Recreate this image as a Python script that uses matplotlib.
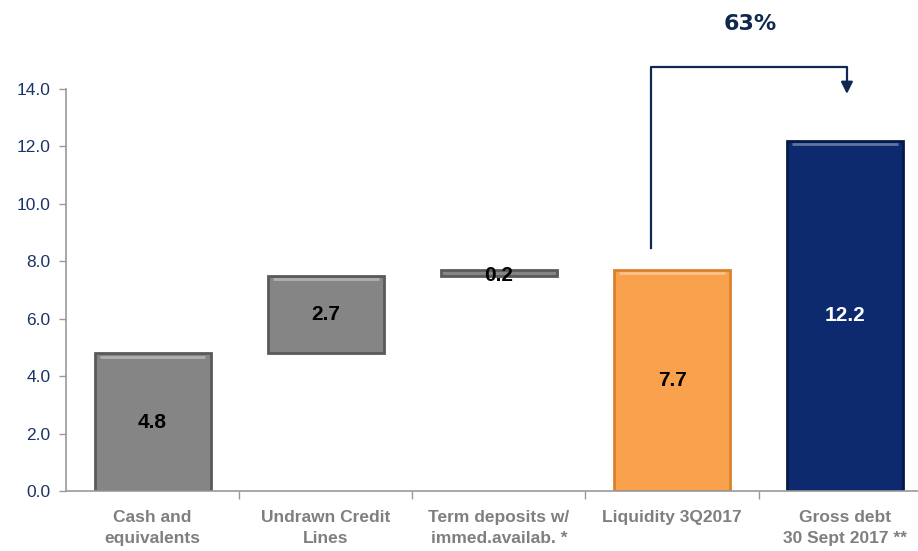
import matplotlib
matplotlib.use("Agg")
import matplotlib.pyplot as plt
import matplotlib.font_manager as fm

categories = ["Cash and\nequivalents", "Undrawn Credit\nLines", "Term deposits w/\nimmed.availab. *",
              "Liquidity 3Q2017", "Gross debt\n30 Sept 2017 **"]
values = [4.8, 2.7, 0.2, 7.7, 12.2]
bottoms = [0.0, 4.8, 7.5, 0.0, 0.0]
labels = ["4.8", "2.7", "0.2", "7.7", "12.2"]
yticks = [0, 2, 4, 6, 8, 10, 12, 14]
pct_label = "63%"

names = {f.name for f in fm.fontManager.ttflist}
narrow = "Liberation Sans Narrow" if "Liberation Sans Narrow" in names else "Liberation Sans"
plt.rcParams['font.family'] = [narrow, 'DejaVu Sans']

face = ["#858585", "#858585", "#858585", "#F9A14C", "#0D2A6E"]
edge = ["#5A5A5A", "#5A5A5A", "#5A5A5A", "#D9822E", "#061A4A"]
txtc = ["black", "black", "black", "black", "white"]

fig = plt.figure(figsize=(9.18, 5.51), dpi=100)
ax = fig.add_axes([0.0719, 0.109, 0.928, 0.7296])

x = list(range(len(values)))
w = 0.67
ax.bar(x, values, bottom=bottoms, width=w, color=face, edgecolor=edge, linewidth=2.0, zorder=2)
# bevel highlight
for xi, v, b in zip(x, values, bottoms):
    if v > 0.5:
        ax.plot([xi - w/2 + 0.03, xi + w/2 - 0.03], [b + v - 0.12, b + v - 0.12],
                color="white", alpha=0.35, lw=2, zorder=3, solid_capstyle="butt")

for xi, v, b, t, c in zip(x, values, bottoms, labels, txtc):
    ax.text(xi, b + v / 2 - (0.1 if v < 0.5 else 0), t, ha="center", va="center",
            fontsize=15, fontweight="bold", color=c, zorder=4)

ax.set_ylim(0, 14)
ax.set_xlim(-0.5, 4.42)
ax.set_yticks(yticks)
ax.set_yticklabels([f"{v:.1f}" for v in yticks], color="#1B3368", fontsize=12.5)
ax.set_xticks(x)
ax.set_xticklabels(categories, color="#7F7F7F", fontsize=12.5, fontweight="bold", linespacing=1.45)
ax.set_xticks([0.5, 1.5, 2.5, 3.5], minor=True)
ax.tick_params(axis="x", which="major", length=0, pad=14)
ax.tick_params(axis="x", which="minor", length=6, color="#999999", width=1)
ax.tick_params(axis="y", length=5, color="#999999", width=1, pad=6)
for s in ["top", "right"]:
    ax.spines[s].set_visible(False)
ax.spines["left"].set_color("#999999")
ax.spines["bottom"].set_color("#999999")
ax.spines["left"].set_linewidth(1.2)
ax.spines["bottom"].set_linewidth(1.2)

# bracket arrow from liquidity to gross debt
ac = "#0E2850"
ax.plot([2.88, 2.88, 4.01, 4.01], [8.45, 14.75, 14.75, 14.3], color=ac, lw=1.6, clip_on=False, zorder=5)
ax.annotate("", xy=(4.01, 13.73), xytext=(4.01, 14.35),
            arrowprops=dict(arrowstyle="-|>,head_width=0.35,head_length=0.7", color=ac, lw=1.6),
            annotation_clip=False)
ax.text(3.45, 16.25, pct_label, ha="center", va="center", fontsize=16, fontweight="bold",
        color="#0E2850", family=["DejaVu Sans"], clip_on=False)

fig.savefig("out.png", dpi=100)
